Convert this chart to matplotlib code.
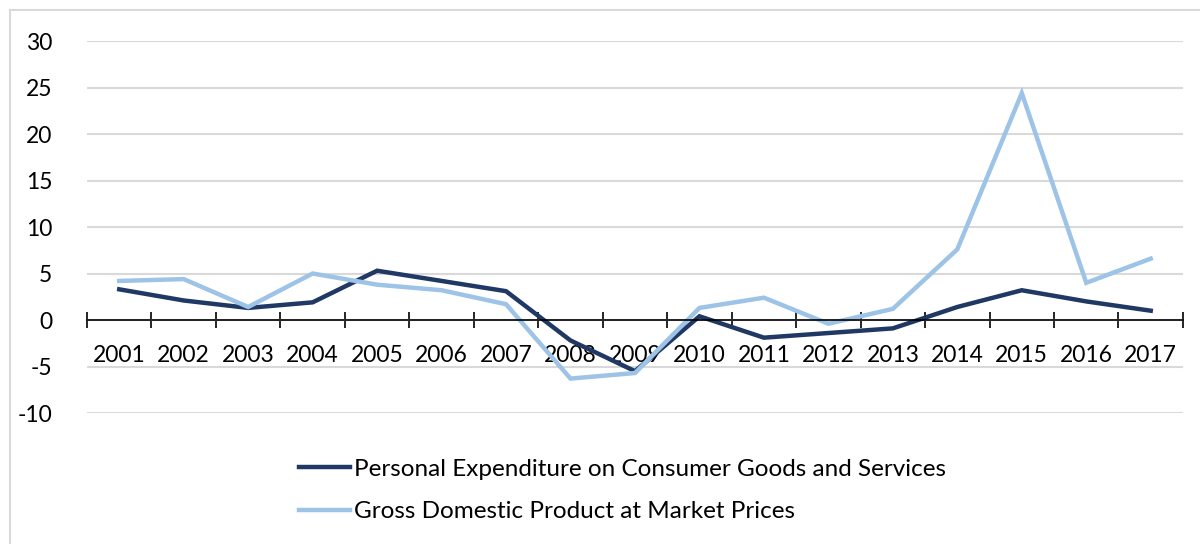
import numpy as np
import matplotlib.pyplot as plt
from matplotlib.patches import Rectangle

years = ['2001', '2002', '2003', '2004', '2005', '2006', '2007', '2008', '2009',
         '2010', '2011', '2012', '2013', '2014', '2015', '2016', '2017']
consumo = [3.3, 2.1, 1.3, 1.9, 5.3, 4.2, 3.1, -2.2, -5.5,
           0.4, -1.9, -1.4, -0.9, 1.4, 3.2, 2.0, 1.0]
pib = [4.2, 4.4, 1.4, 5.0, 3.8, 3.2, 1.7, -6.3, -5.7,
       1.3, 2.4, -0.4, 1.2, 7.6, 24.4, 4.0, 6.6]

plt.rcParams['font.family'] = ['Lato', 'DejaVu Sans']
plt.rcParams['axes.unicode_minus'] = False

fig = plt.figure(figsize=(12, 5.44), dpi=100)
ax = fig.add_axes([0.0725, 0.2408, 0.9133, 0.6838])

# moldura externa
fig.patches.append(Rectangle((10/1200, -0.1), 1.2, 1 - 10/544 + 0.1,
                             transform=fig.transFigure, fill=False,
                             edgecolor='#D9D9D9', linewidth=1.5))

x = np.arange(len(years))
ax.plot(x, consumo, color='#203864', linewidth=3.2, solid_joinstyle='miter',
        label='Personal Expenditure on Consumer Goods and Services')
ax.plot(x, pib, color='#9DC3E6', linewidth=3.2, solid_joinstyle='miter',
        label='Gross Domestic Product at Market Prices')

ax.set_xlim(-0.5, len(years) - 0.5)
ax.set_ylim(-10, 30)
ax.set_yticks(range(-10, 31, 5))
ax.grid(axis='y', color='#D9D9D9', linewidth=1.5)
ax.set_axisbelow(True)

for s in ['top', 'right', 'left']:
    ax.spines[s].set_visible(False)
ax.spines['bottom'].set_position(('data', 0))
ax.spines['bottom'].set_linewidth(1.2)

ax.set_xticks(np.arange(-0.5, len(years), 1))
ax.set_xticklabels([])
ax.tick_params(axis='x', which='major', direction='inout', length=12, width=1.2)
ax.set_xticks(x, minor=True)
ax.set_xticklabels(years, minor=True, fontsize=16.5)
ax.tick_params(axis='x', which='minor', length=0, pad=18)
ax.tick_params(axis='y', length=0, pad=25, labelsize=16.5)

fig.legend(loc='upper left', bbox_to_anchor=(0.231, 0.197), frameon=False,
           fontsize=17.5, handlelength=2.1, handletextpad=0.15, labelspacing=0.89)

plt.savefig('out.png', dpi=100)
